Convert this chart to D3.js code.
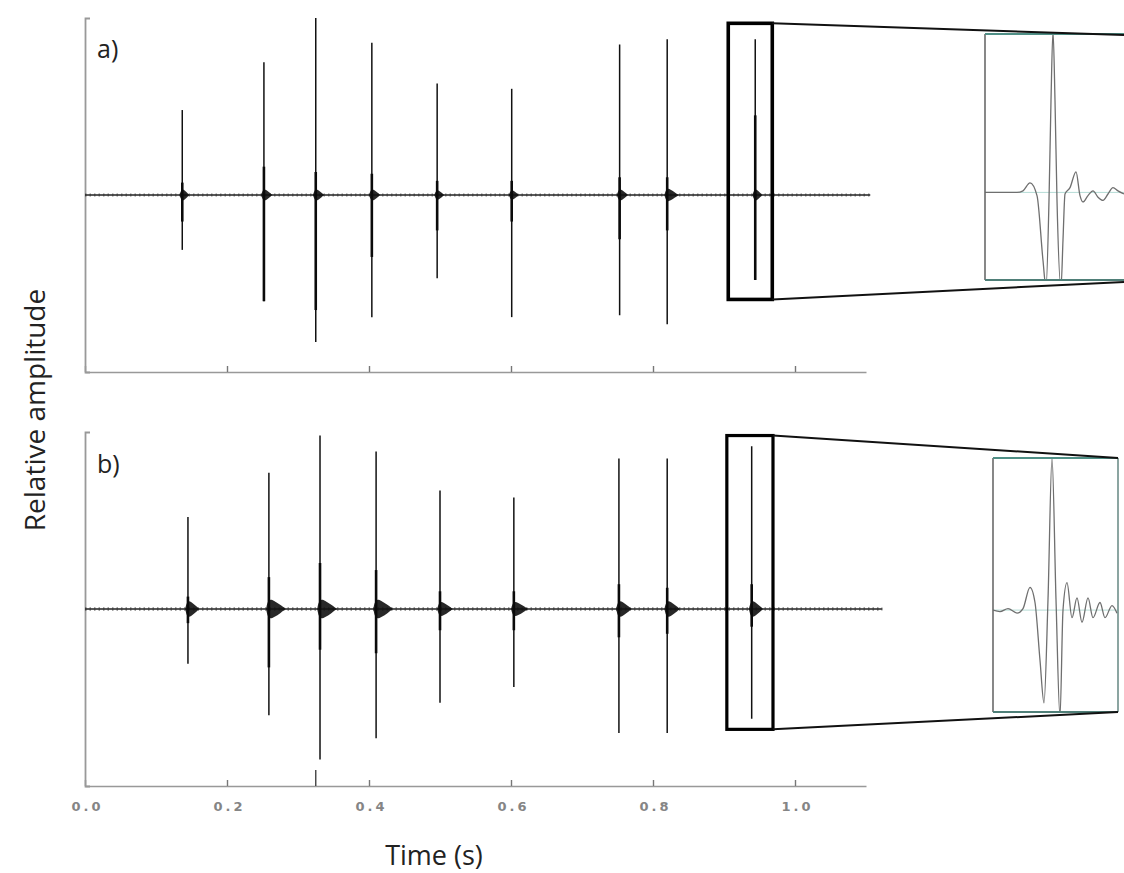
<!DOCTYPE html>
<html><head><meta charset="utf-8">
<script src="https://cdn.jsdelivr.net/npm/d3@7"></script>
<style>body{margin:0;background:#fff}svg{display:block}</style>
</head><body><svg id="c" width="1124" height="873"></svg>
<script>
// ---------- data ----------
const tickValues = [0.0, 0.2, 0.4, 0.6, 0.8, 1.0];
const tickLabels = ["0.0", "0.2", "0.4", "0.6", "0.8", "1.0"];
const panelLabels = ["a)", "b)"];

// panel a events (time s, positive peak, negative peak, dense body up/down, coda amp, coda length s)
const aTimes   = [0.137, 0.252, 0.325, 0.404, 0.496, 0.601, 0.753, 0.820, 0.944];
const aUp      = [0.48, 0.75, 1.00, 0.86, 0.63, 0.60, 0.85, 0.88, 0.88];
const aDown    = [-0.31, -0.60, -0.83, -0.69, -0.47, -0.69, -0.68, -0.73, -0.48];
const aBodyUp  = [0.07, 0.16, 0.13, 0.12, 0.08, 0.08, 0.10, 0.10, 0.45];
const aBodyDn  = [-0.15, -0.60, -0.65, -0.35, -0.20, -0.15, -0.25, -0.20, -0.48];
const aCodaAmp = [0.035, 0.035, 0.035, 0.035, 0.03, 0.03, 0.035, 0.04, 0.035];
const aCodaLen = [0.010, 0.012, 0.012, 0.012, 0.010, 0.010, 0.012, 0.016, 0.010];
const aEnd = 1.106;

// panel b events
const bTimes   = [0.145, 0.259, 0.331, 0.410, 0.500, 0.604, 0.752, 0.820, 0.939];
const bUp      = [0.52, 0.77, 0.98, 0.89, 0.67, 0.63, 0.85, 0.85, 0.92];
const bDown    = [-0.31, -0.60, -0.85, -0.73, -0.53, -0.44, -0.70, -0.70, -0.62];
const bBodyUp  = [0.07, 0.18, 0.26, 0.22, 0.10, 0.10, 0.14, 0.12, 0.14];
const bBodyDn  = [-0.08, -0.33, -0.23, -0.25, -0.12, -0.12, -0.16, -0.14, -0.10];
const bCodaAmp = [0.05, 0.06, 0.06, 0.06, 0.045, 0.045, 0.05, 0.05, 0.05];
const bCodaLen = [0.016, 0.024, 0.024, 0.024, 0.018, 0.020, 0.018, 0.018, 0.016];
const bEnd = 1.123;
const bMarkTimes = [0.325];

// zoom windows (t0, t1, amp low, amp high)
const zoomA = [0.906, 0.968, -0.59, 0.97];
const zoomB = [0.904, 0.969, -0.68, 0.98];

// inset waveforms (sample index, relative amplitude)
const insetASamples = [0,15,32,38,45,52,58,61,64,66,68,70,72,76,78,80,85,91,95,98,103,108,113,118,123,128,133,139];
const insetAValues  = [0,0,0,0.01,0.06,-0.02,-0.43,-0.60,-0.05,0.58,1.02,0.58,-0.05,-0.60,-0.30,-0.01,0.03,0.13,-0.02,-0.06,-0.02,0.01,-0.03,-0.05,-0.01,0.03,0.01,-0.01];
const insetBSamples = [0,7,15,24,30,37,42,47,51,55,59,63,67,70,74,79,84,89,95,100,107,112,119,124];
const insetBValues  = [0,-0.01,0.01,-0.02,0.01,0.15,0.05,-0.33,-0.61,0.07,1.0,0.07,-0.70,0,0.18,-0.05,0.08,-0.08,0.08,-0.05,0.05,-0.05,0.03,-0.02];

// ---------- drawing ----------
const svg = d3.select("#c");
svg.append("rect").attr("width",1124).attr("height",873).attr("fill","#fff");

const x = d3.scaleLinear().domain([0, 1.1]).range([85, 866]);

const panels = [
  {y: d3.scaleLinear().domain([-1,1]).range([372,18]), t: aTimes, up: aUp, dn: aDown, bu: aBodyUp, bd: aBodyDn,
   ca: aCodaAmp, cl: aCodaLen, end: aEnd, zoom: zoomA, label: panelLabels[0], labelY: 58, showLabels: false, noiseW: 3},
  {y: d3.scaleLinear().domain([-1,1]).range([786,432]), t: bTimes, up: bUp, dn: bDown, bu: bBodyUp, bd: bBodyDn,
   ca: bCodaAmp, cl: bCodaLen, end: bEnd, zoom: zoomB, label: panelLabels[1], labelY: 473, showLabels: true, noiseW: 3.6}
];

panels.forEach((p, pi) => {
  const g = svg.append("g");
  const y = p.y;
  const xa = d3.axisBottom(x).tickValues(tickValues).tickSizeInner(-6).tickSizeOuter(0).tickPadding(16)
     .tickFormat((d,i) => p.showLabels ? tickLabels[i] : "");
  const gx = g.append("g").attr("transform", `translate(0,${y.range()[0]})`).call(xa);
  gx.select(".domain").attr("stroke","#999").attr("stroke-width",1.6);
  gx.selectAll(".tick line").attr("stroke","#777").attr("stroke-width",1.4);
  gx.selectAll(".tick text").attr("fill","#858585").attr("font-family","DejaVu Sans, sans-serif")
     .attr("font-size",13).attr("font-weight","bold").attr("letter-spacing","3px").attr("dx","2px");
  if (pi === 1) {
    g.selectAll(".mark").data(bMarkTimes).join("line")
      .attr("x1", d => x(d)).attr("x2", d => x(d))
      .attr("y1", y.range()[0]).attr("y2", y.range()[0]-16)
      .attr("stroke","#444").attr("stroke-width",1.4);
  }
  const ya = d3.axisRight(y).tickValues([]).tickSizeOuter(5);
  const gy = g.append("g").attr("transform", `translate(${x(0)},0)`).call(ya);
  gy.select(".domain").attr("stroke","#999").attr("stroke-width",1.8);

  const line = d3.line().x(d => x(d[0])).y(d => y(d[1]));
  g.append("path").attr("d", line([[0,0],[p.end,0]])).attr("stroke","#222").attr("stroke-width",1.3).attr("fill","none");
  g.append("path").attr("d", line([[0,0],[p.end,0]])).attr("stroke","#333").attr("stroke-width",p.noiseW)
    .attr("stroke-dasharray","1.5,3").attr("fill","none").attr("opacity",0.6);

  const ev = p.t.map((t,i) => ({t, up:p.up[i], dn:p.dn[i], bu:p.bu[i], bd:p.bd[i], ca:p.ca[i], cl:p.cl[i]}));
  const area = d3.area().x(d => x(d[0])).y0(d => y(-d[1])).y1(d => y(d[1])).curve(d3.curveBasis);
  g.selectAll(".coda").data(ev).join("path")
    .attr("d", d => area([[d.t-0.004, 0], [d.t-0.001, d.ca], [d.t+d.cl*0.3, d.ca*0.8], [d.t+d.cl*0.7, d.ca*0.35], [d.t+d.cl, 0]]))
    .attr("fill","#111").attr("opacity",0.9);
  g.selectAll(".spike").data(ev).join("line")
    .attr("x1", d => x(d.t)).attr("x2", d => x(d.t))
    .attr("y1", d => y(d.up)).attr("y2", d => y(d.dn))
    .attr("stroke","#111").attr("stroke-width",1.5);
  g.selectAll(".body").data(ev).join("line")
    .attr("x1", d => x(d.t)).attr("x2", d => x(d.t))
    .attr("y1", d => y(d.bu)).attr("y2", d => y(d.bd))
    .attr("stroke","#0a0a0a").attr("stroke-width",2.6);

  svg.append("text").attr("x", 97).attr("y", p.labelY).text(p.label)
    .attr("font-family","Open Sans, sans-serif").attr("font-size",25).attr("fill","#222");

  const z = p.zoom;
  svg.append("rect").attr("x", x(z[0])).attr("y", y(z[3]))
    .attr("width", x(z[1]) - x(z[0])).attr("height", y(z[2]) - y(z[3]))
    .attr("fill","none").attr("stroke","#000").attr("stroke-width", pi===0 ? 3.6 : 3.2);
});

function inset(box, samples, values, sDomain, aDomain, zRight, zTop, zBottom) {
  const [bx0, by0, bx1, by1] = box;
  const g = svg.append("g");
  const id = "clip" + bx0;
  svg.append("clipPath").attr("id", id).append("rect").attr("x",bx0).attr("y",by0).attr("width",bx1-bx0).attr("height",by1-by0);
  const sx = d3.scaleLinear().domain(sDomain).range([bx0, bx0 + (sDomain[1]-sDomain[0])]);
  const sy = d3.scaleLinear().domain(aDomain).range([by1, by0]);
  g.append("line").attr("x1",bx0).attr("x2",bx1).attr("y1",sy(0)).attr("y2",sy(0)).attr("stroke","#b5dcd6").attr("stroke-width",1);
  const data = samples.map((s,i) => [s, values[i]]);
  g.append("path").attr("clip-path", `url(#${id})`)
    .attr("d", d3.line().x(d => sx(d[0])).y(d => sy(d[1])).curve(d3.curveMonotoneX)(data))
    .attr("fill","none").attr("stroke","#6f6f6f").attr("stroke-width",1.3);
  g.append("line").attr("x1",bx0).attr("x2",bx0).attr("y1",by0).attr("y2",by1).attr("stroke","#6a6a6a").attr("stroke-width",1.6);
  g.append("line").attr("x1",bx1).attr("x2",bx1).attr("y1",by0).attr("y2",by1).attr("stroke","#6f8f8a").attr("stroke-width",1.6);
  g.append("line").attr("x1",bx0).attr("x2",bx1).attr("y1",by0).attr("y2",by0).attr("stroke","#4f8f86").attr("stroke-width",2.2);
  g.append("line").attr("x1",bx0).attr("x2",bx1).attr("y1",by1).attr("y2",by1).attr("stroke","#4f7f78").attr("stroke-width",2);
  svg.append("line").attr("x1",zRight).attr("y1",zTop[0]).attr("x2",zTop[1]).attr("y2",zTop[2]).attr("stroke","#111").attr("stroke-width",2);
  svg.append("line").attr("x1",zRight).attr("y1",zBottom[0]).attr("x2",zBottom[1]).attr("y2",zBottom[2]).attr("stroke","#111").attr("stroke-width",2);
}
const yA = panels[0].y, yB = panels[1].y;
inset([985, 34, 1140, 280], insetASamples, insetAValues, [0, 155], [-0.553, 1],
      x(zoomA[1]), [yA(zoomA[3]), 1124, 35], [yA(zoomA[2]), 1124, 282]);
inset([993, 458, 1118, 712], insetBSamples, insetBValues, [0, 125], [-0.67, 1],
      x(zoomB[1]), [yB(zoomB[3]), 1118, 458], [yB(zoomB[2]), 1118, 712]);

svg.append("text").attr("transform","translate(45,410) rotate(-90)").attr("text-anchor","middle")
  .attr("font-family","Open Sans, sans-serif").attr("font-size",28).attr("fill","#222").text("Relative amplitude");
svg.append("text").attr("x",434).attr("y",865).attr("text-anchor","middle")
  .attr("font-family","Open Sans, sans-serif").attr("font-size",27).attr("fill","#222").text("Time (s)");
</script></body></html>
